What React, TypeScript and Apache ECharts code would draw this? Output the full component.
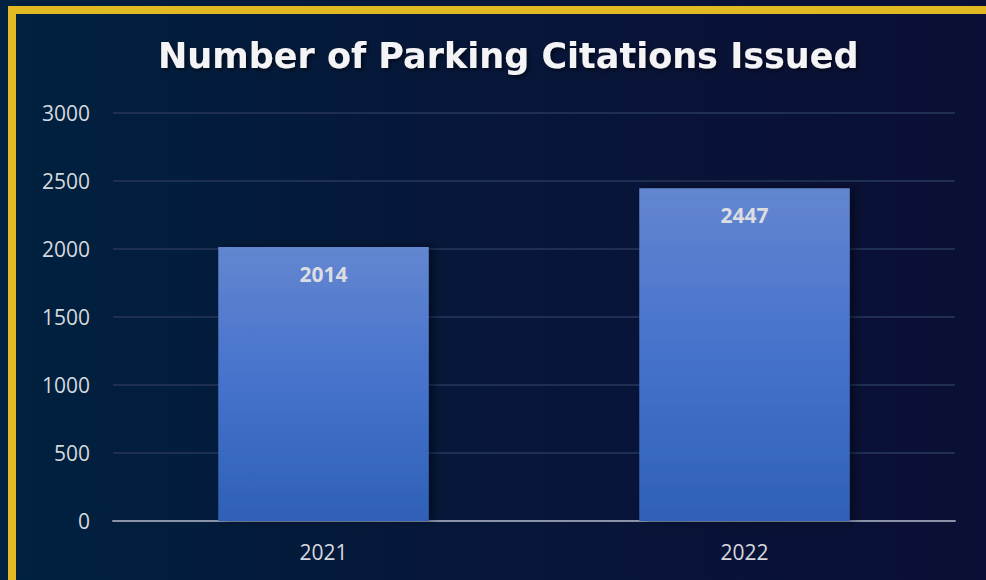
import React, { useEffect, useRef } from "react";
import * as echarts from "echarts";

const categories = ["2021", "2022"];
const citations = [2014, 2447];
const yTicks = [0, 500, 1000, 1500, 2000, 2500, 3000];
const title = "Number of Parking Citations Issued";

export default function App() {
  const ref = useRef<HTMLDivElement>(null);
  useEffect(() => {
    document.body.style.margin = "0";
    const chart = echarts.init(ref.current!, undefined, { renderer: "svg" });
    chart.setOption({
      animation: false,
      backgroundColor: new echarts.graphic.LinearGradient(0, 0, 1, 0, [
        { offset: 0, color: "#00213f" },
        { offset: 0.5, color: "#071639" },
        { offset: 1, color: "#0b0f35" },
      ]),
      title: {
        text: title,
        left: 153,
        top: 33,
        textStyle: {
          color: "#f4f4f6",
          fontFamily: "DejaVu Sans",
          fontWeight: "bold",
          fontSize: 35,
          textShadowColor: "rgba(0,0,0,0.6)",
          textShadowBlur: 4,
          textShadowOffsetX: 2,
          textShadowOffsetY: 2,
        },
      },
      grid: { left: 113, right: 31, top: 113, bottom: 59, containLabel: false },
      xAxis: {
        type: "category",
        data: categories,
        axisLine: { lineStyle: { color: "#8a93a8", width: 2 } },
        axisTick: { show: false },
        axisLabel: { color: "#d5d8df", fontSize: 21, fontFamily: "Open Sans", margin: 20 },
      },
      yAxis: {
        type: "value",
        min: yTicks[0],
        max: yTicks[yTicks.length - 1],
        interval: 500,
        axisLine: { show: false },
        axisTick: { show: false },
        axisLabel: {
          color: "#d5d8df",
          fontSize: 21,
          fontFamily: "Open Sans",
          margin: 23,
          formatter: (v: number) => String(v),
        },
        splitLine: { lineStyle: { color: "#1e2f52", width: 2 } },
      },
      series: [
        {
          type: "bar",
          data: citations,
          barWidth: "50%",
          itemStyle: {
            color: new echarts.graphic.LinearGradient(0, 0, 0, 1, [
              { offset: 0, color: "#6386d0" },
              { offset: 0.5, color: "#4572cc" },
              { offset: 1, color: "#2f60b7" },
            ]),
            shadowColor: "rgba(0,0,0,0.45)",
            shadowBlur: 8,
            shadowOffsetX: 5,
            shadowOffsetY: 0,
          },
          label: {
            show: true,
            position: "insideTop",
            distance: 16,
            color: "#dcdde2",
            fontWeight: "bold",
            fontSize: 21,
            fontFamily: "Open Sans",
          },
        },
      ],
      graphic: [
        {
          type: "rect",
          shape: { x: 12, y: 10, width: 1000, height: 600 },
          style: { fill: "none", stroke: "#e1b923", lineWidth: 8 },
          silent: true,
        },
      ],
    });
    return () => chart.dispose();
  }, []);
  return <div ref={ref} style={{ width: 986, height: 580 }} />;
}
